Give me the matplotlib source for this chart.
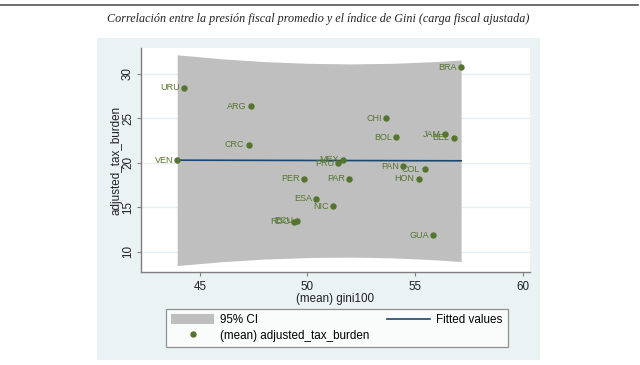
import matplotlib.pyplot as plt
from matplotlib.patches import Rectangle, Patch
from matplotlib.lines import Line2D

# country labels and values
countries = ['URU', 'ARG', 'CRC', 'VEN', 'MEX', 'PRU', 'PER', 'PAR', 'ESA', 'NIC',
             'RDO', 'ECU', 'CHI', 'BOL', 'JAM', 'BEL', 'BRA', 'PAN', 'COL', 'HON', 'GUA']
gini = [44.27, 47.36, 47.27, 43.95, 51.67, 51.44, 49.84, 51.95, 50.41, 51.20,
        49.38, 49.53, 53.64, 54.13, 56.39, 56.80, 57.14, 54.46, 55.44, 55.17, 55.84]
tax_burden = [28.45, 26.38, 22.05, 20.30, 20.35, 19.93, 18.20, 18.20, 15.94, 15.10,
              13.34, 13.49, 25.02, 22.90, 23.20, 22.80, 30.76, 19.63, 19.25, 18.20, 11.82]

# fitted line and 95% CI band
fit_x = [43.95, 57.14]
fit_y = [20.30, 20.23]
ci_x = [43.95, 46, 48, 50, 52, 54, 56, 57.14]
ci_upper = [32.17, 31.72, 31.40, 31.21, 31.14, 31.21, 31.41, 31.58]
ci_lower = [8.43, 8.86, 9.16, 9.33, 9.38, 9.29, 9.07, 8.88]

xticks = [45, 50, 55, 60]
yticks = [10, 15, 20, 25, 30]

green = '#55752f'
navy = '#1a476f'
band = '#bfbfbf'
axcol = '#7f7f7f'

plt.rcParams['font.family'] = ['Liberation Sans', 'DejaVu Sans']

fig = plt.figure(figsize=(6.4, 3.65), dpi=100)
fig.patch.set_facecolor('white')

# top rule and title
fig.add_artist(Line2D([0, 638 / 640], [1 - 5 / 365, 1 - 5 / 365], color='#555555', lw=1.2))
fig.text(318 / 640, 1 - 19 / 365, 'Correlación entre la presión fiscal promedio y el índice de Gini (carga fiscal ajustada)',
         family=['Liberation Serif', 'DejaVu Serif'], style='italic', fontsize=8.7,
         ha='center', va='center', color='#222222')

# stata graph region
fig.add_artist(Rectangle((96.7 / 640, 5 / 365), (540 - 96.7) / 640, (360 - 38.3) / 365,
                         transform=fig.transFigure, facecolor='#eaf2f3', edgecolor='none', zorder=0))

ax = fig.add_axes([141 / 640, 92.7 / 365, (530 - 141) / 640, (272.3 - 48.3) / 365])
ax.set_facecolor('white')
ax.set_xlim(42.27, 60.34)
ax.set_ylim(7.67, 32.9)

for y in yticks:
    ax.axhline(y, color='#e9eff1', lw=1, zorder=0)

ax.fill_between(ci_x, ci_lower, ci_upper, color=band, lw=0, zorder=1)
ax.plot(fit_x, fit_y, color=navy, lw=1.2, zorder=2)
ax.plot(gini, tax_burden, 'o', color=green, ms=3.6, zorder=3)
for name, gx, ty in zip(countries, gini, tax_burden):
    ax.annotate(name, (gx, ty), xytext=(-3, 0), textcoords='offset points',
                ha='right', va='center', fontsize=6.5, color=green, zorder=4)

ax.set_xticks(xticks)
ax.set_yticks(yticks)
ax.tick_params(axis='both', colors=axcol, labelcolor='#222222', labelsize=8.4, length=3, width=0.8)
ax.tick_params(axis='y', labelrotation=90, pad=2)
for lab in ax.get_yticklabels():
    lab.set_va('center')
for side in ['top', 'right']:
    ax.spines[side].set_visible(False)
for side in ['left', 'bottom']:
    ax.spines[side].set_color(axcol)
    ax.spines[side].set_linewidth(1)
ax.set_xlabel('(mean) gini100', fontsize=8.4, color='#222222', labelpad=0)
ax.set_ylabel('adjusted_tax_burden', fontsize=8.4, color='#222222', labelpad=0)

handles = [Patch(facecolor=band, edgecolor='none'),
           Line2D([], [], marker='o', color=green, ls='none', ms=3.6),
           Line2D([], [], color=navy, lw=1.2)]
labels = ['95% CI', '(mean) adjusted_tax_burden', 'Fitted values']
leg = fig.legend(handles, labels, ncol=2, loc='upper left',
                 bbox_to_anchor=(166 / 640, 1 - 309 / 365), fontsize=8.4,
                 frameon=True, fancybox=False, edgecolor='#777777',
                 handlelength=3.7, handleheight=0.9, handletextpad=0.5,
                 columnspacing=1.5, borderpad=0.45, labelspacing=0.3, borderaxespad=0)
leg.get_frame().set_linewidth(0.9)

fig.savefig('out.png', dpi=100)
